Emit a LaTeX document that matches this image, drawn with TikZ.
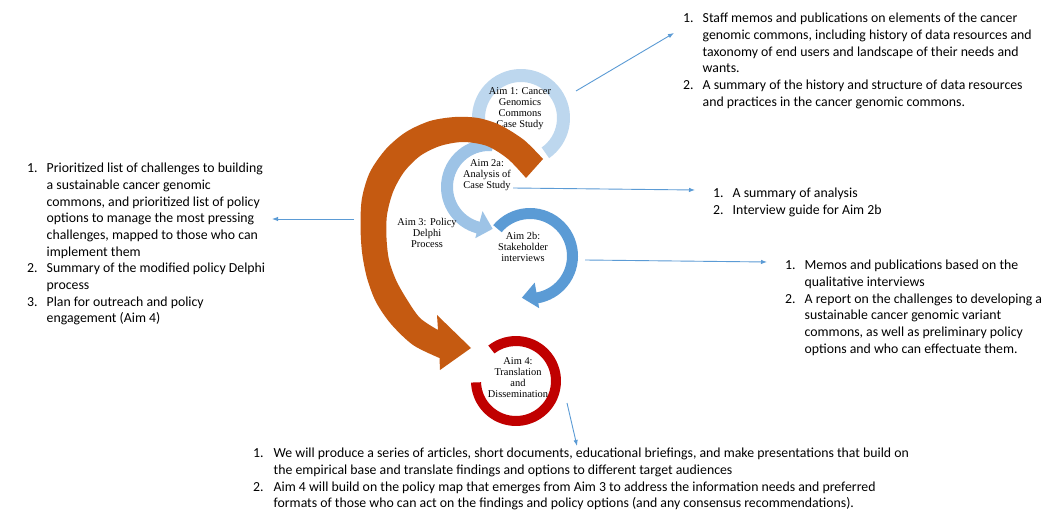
\documentclass[tikz,border=0pt]{standalone}
\usepackage{fontspec}
\setmainfont{Carlito}
\newfontfamily\tnr{Liberation Serif}
\usetikzlibrary{arrows.meta,calc}
\definecolor{aimone}{HTML}{BDD7EE}
\definecolor{aimtwoa}{HTML}{9DC3E6}
\definecolor{aimtwob}{HTML}{5B9BD5}
\definecolor{aimthree}{HTML}{C55A11}
\definecolor{aimfour}{HTML}{C00000}
\definecolor{linkblue}{HTML}{5B9BD5}
% ring sector: color, center, rin, rout, a1, a2
\newcommand{\ringsector}[6]{%
  \fill[#1] ($(#2)+(#5:#4)$) arc[start angle=#5, end angle=#6, radius=#4]
    -- ($(#2)+(#6:#3)$) arc[start angle=#6, end angle=#5, radius=#3] -- cycle;}
% ring arrow: color, center, rin, rout, a1, a2, atip, win, wout
\newcommand{\ringarrow}[9]{%
  \fill[#1] ($(#2)+(#5:#4)$) arc[start angle=#5, end angle=#6, radius=#4]
    -- ($(#2)+(#6:#9)$) -- ($(#2)+(#7:{(#3+#4)/2})$) -- ($(#2)+(#6:#8)$)
    -- ($(#2)+(#6:#3)$) arc[start angle=#6, end angle=#5, radius=#3] -- cycle;}
\begin{document}
\begin{tikzpicture}[x=1pt,y=-1pt,
  circtext/.style={font=\tnr\fontsize{10.4}{11}\selectfont, align=center, inner sep=0pt},
  listtext/.style={font=\fontsize{13.8}{16.7}\selectfont, anchor=north west, inner sep=0pt},
  link/.style={draw=linkblue, line width=0.9pt, -{Latex[length=6pt,width=4.5pt]}}]
\useasboundingbox (0,0) rectangle (1055,529);
\fill[white] (0,0) rectangle (1055,529);
% centres
\coordinate (c1) at (521,118);
\coordinate (c2a) at (489,187);
\coordinate (c2b) at (530,256);
\coordinate (c4) at (516,381);
% Aim 1 ring
\ringsector{aimone}{c1}{36}{49}{-210}{55}
\node[circtext] (t1) at (520,109) {Aim 1: Cancer\\Genomics\\Commons\\Case Study};
% Aim 2a
\ringarrow{aimtwoa}{c2a}{36}{48}{-85}{-255}{-275}{25}{53}
% Aim 2b
\ringarrow{aimtwob}{c2b}{37}{48}{-140}{80}{101}{27}{53}
% Aim 4
\ringsector{aimfour}{c4}{35}{45}{-128}{178}
% Aim 3 (orange)
\fill[aimthree] (543,159) -- plot[smooth] coordinates {(543,159) (524,140) (500,125) (478,118) (455,117) (430,121) (406,132) (386,149) (370,172) (362,198) (360.5,225) (362,252) (367,278) (376,302) (391,324) (413,345) (439.5,358)}
  -- (440,370) -- (471,348) -- (437,315) -- (438,330)
  -- plot[smooth] coordinates {(438,330) (420,318) (406,298) (396,280) (389,260) (386.5,238) (387,215) (393,192) (404,172) (420,156) (440,146) (463,142) (487,146) (508,159) (526,178)}
  -- cycle;
% circle labels
\node[circtext] (t2a) at (487,175) {Aim 2a:\\Analysis of\\Case Study};
\node[circtext] (t3) at (427,233) {Aim 3: Policy\\Delphi\\Process};
\node[circtext] (t2b) at (523,247) {Aim 2b:\\Stakeholder\\interviews};
\node[circtext] (t4) at (518,378) {Aim 4:\\Translation\\and\\Dissemination};
% lists
\node[listtext] (L1) at (683,10.8) {\begin{tabular}{@{}l@{}l@{}}
\makebox[19.5pt][l]{1.} & Staff memos and publications on elements of the cancer\\
 & genomic commons, including history of data resources and\\
 & taxonomy of end users and landscape of their needs and\\
 & wants.\\
\makebox[19.5pt][l]{2.} & A summary of the history and structure of data resources\\
 & and practices in the cancer genomic commons.
\end{tabular}};
\node[listtext] (L3) at (27,160.8) {\begin{tabular}{@{}l@{}l@{}}
\makebox[19.5pt][l]{1.} & Prioritized list of challenges to building\\
 & a sustainable cancer genomic\\
 & commons, and prioritized list of policy\\
 & options to manage the most pressing\\
 & challenges, mapped to those who can\\
 & implement them\\
\makebox[19.5pt][l]{2.} & Summary of the modified policy Delphi\\
 & process\\
\makebox[19.5pt][l]{3.} & Plan for outreach and policy\\
 & engagement (Aim 4)
\end{tabular}};
\node[listtext] (L2a) at (713,185.8) {\begin{tabular}{@{}l@{}l@{}}
\makebox[19.5pt][l]{1.} & A summary of analysis\\
\makebox[19.5pt][l]{2.} & Interview guide for Aim 2b
\end{tabular}};
\node[listtext] (L2b) at (785,257.8) {\begin{tabular}{@{}l@{}l@{}}
\makebox[19.5pt][l]{1.} & Memos and publications based on the\\
 & qualitative interviews\\
\makebox[19.5pt][l]{2.} & A report on the challenges to developing a\\
 & sustainable cancer genomic variant\\
 & commons, as well as preliminary policy\\
 & options and who can effectuate them.
\end{tabular}};
\node[listtext] (L4) at (253,445.8) {\begin{tabular}{@{}l@{}l@{}}
\makebox[20.5pt][l]{1.} & We will produce a series of articles, short documents, educational briefings, and make presentations that build on\\
 & the empirical base and translate findings and options to different target audiences\\
\makebox[20.5pt][l]{2.} & Aim 4 will build on the policy map that emerges from Aim 3 to address the information needs and preferred\\
 & formats of those who can act on the findings and policy options (and any consensus recommendations).
\end{tabular}};
% connectors
\coordinate (a1s) at (576,91);  \coordinate (a1e) at (674,33);
\coordinate (a2s) at (513,188); \coordinate (a2e) at (695,190);
\coordinate (a2bs) at (585,260); \coordinate (a2be) at (767,262);
\coordinate (a3s) at (354,219); \coordinate (a3e) at (272,219);
\coordinate (a4s) at (567,403); \coordinate (a4e) at (577,446);
\draw[link] (a1s) -- (a1e);
\draw[link] (a2s) -- (a2e);
\draw[link] (a2bs) -- (a2be);
\draw[link] (a3s) -- (a3e);
\draw[link] (a4s) -- (a4e);
\end{tikzpicture}
\end{document}
